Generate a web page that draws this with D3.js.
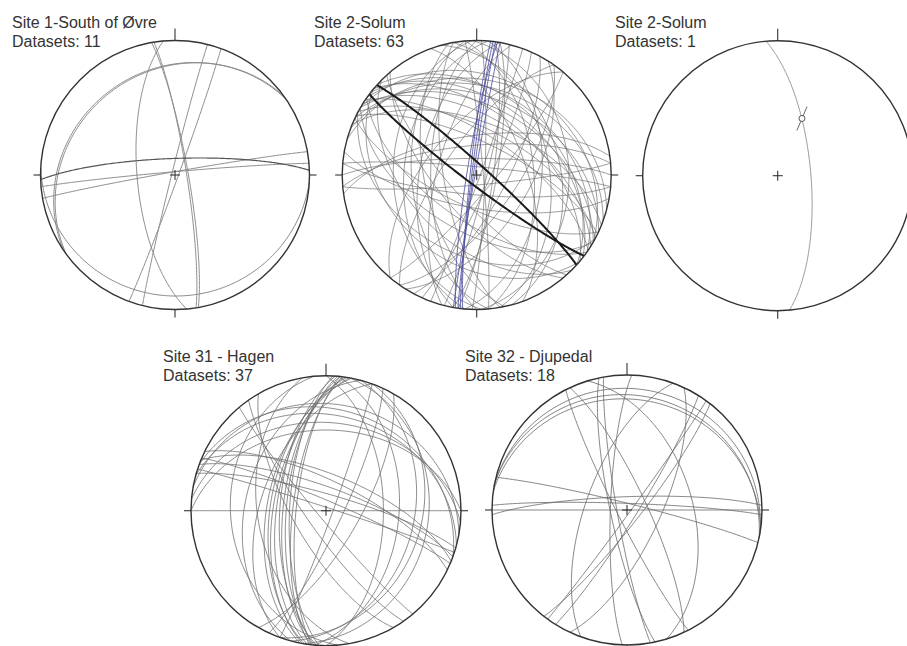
<!DOCTYPE html>
<html>
<head>
<meta charset="utf-8">
<script src="https://cdn.jsdelivr.net/npm/d3@7"></script>
<style>
  body { margin: 0; background: #fff; }
  text { font-family: 'Liberation Sans', Arial, sans-serif; }
</style>
</head>
<body>
<script>
let w = 907;
let h = 646;

// planes as [strike, dip], right-hand rule, lower hemisphere
let site1Planes = [
  [268, 80], [265, 88], [260, 88], [194, 88], [20, 88], [175, 67],
  [350, 82], [234, 23], [93, 11], [351, 83], [236, 22]
];

let site2Planes = [
  [290, 35], [295, 42], [300, 48], [302, 55], [305, 38], [298, 62], [308, 45],
  [310, 52], [285, 30], [292, 58], [304, 66], [312, 40], [296, 70], [300, 28],
  [175, 50], [180, 62], [185, 45], [170, 70], [190, 55], [178, 38], [195, 66], [168, 58],
  [2, 85], [8, 80], [14, 84], [20, 88], [355, 86], [24, 82], [10, 78],
  [350, 45], [355, 55], [345, 38], [5, 50], [340, 60], [358, 32],
  [270, 80], [265, 72], [275, 85], [262, 66], [95, 78], [100, 70], [85, 84],
  [28, 72], [35, 66], [40, 80], [215, 70], [220, 60], [32, 58],
  [120, 55], [125, 62], [115, 70], [135, 48], [140, 66], [118, 40], [130, 35], [138, 74]
];
let site2Blue = [[186, 86], [188, 88], [189, 84], [190, 89], [187, 87]];
let site2Bold = [[312, 84], [127, 84]];

let site2bPlanes = [[355, 70]];
let site2bLineation = [[23, 52]]; // [trend, plunge]

let site31Planes = [
  [184, 62], [186, 64], [188, 60], [185, 66], [190, 58], [187, 70], [183, 68],
  [189, 56], [186, 72], [191, 54],
  [286, 80], [290, 76], [293, 84], [296, 72], [288, 88], [292, 68],
  [280, 22], [285, 30], [275, 35], [290, 26], [270, 40],
  [10, 25], [15, 35], [5, 45], [20, 30], [0, 55],
  [25, 80], [30, 70], [20, 86],
  [145, 78], [150, 70], [140, 85],
  [90, 90], [175, 30], [195, 40], [200, 50], [170, 48]
];

let site32Planes = [
  [90, 90], [268, 82], [272, 86], [284, 86], [280, 11], [282, 16], [278, 19],
  [170, 84], [168, 80], [182, 80], [32, 84], [38, 82], [36, 88], [153, 84],
  [335, 78], [343, 50], [200, 65], [25, 70]
];

let titles = ['Site 1-South of Øvre', 'Site 2-Solum', 'Site 2-Solum', 'Site 31 - Hagen', 'Site 32 - Djupedal'];
let datasetCounts = [11, 63, 1, 37, 18];

let nets = [
  { cx: 175, cy: 175, r: 134.5, tx: 12, ty: 27.5 },
  { cx: 476.7, cy: 175, r: 134.5, tx: 314, ty: 27.5 },
  { cx: 777.7, cy: 175.7, r: 135, tx: 615, ty: 27.5 },
  { cx: 326, cy: 510.7, r: 135, tx: 163, ty: 362 },
  { cx: 627, cy: 510, r: 135, tx: 465, ty: 362 }
];

let rad = Math.PI / 180;

// equal-area projection of a line (trend, plunge) to unit circle coords
function project(trend, plunge) {
  let rho = Math.SQRT2 * Math.sin((90 - plunge) / 2 * rad);
  return [rho * Math.sin(trend * rad), rho * Math.cos(trend * rad)];
}

function greatCircle(strike, dip) {
  let s = strike * rad, d = dip * rad;
  let sv = [Math.sin(s), Math.cos(s), 0];
  let dv = [Math.sin(s + Math.PI / 2) * Math.cos(d), Math.cos(s + Math.PI / 2) * Math.cos(d), Math.sin(d)];
  let pts = [];
  for (let r = 0; r <= 180; r += 1) {
    let c = Math.cos(r * rad), sn = Math.sin(r * rad);
    let v = [c * sv[0] + sn * dv[0], c * sv[1] + sn * dv[1], c * sv[2] + sn * dv[2]];
    let plunge = Math.asin(Math.max(-1, Math.min(1, v[2]))) / rad;
    let trend = Math.atan2(v[0], v[1]) / rad;
    pts.push(project(trend, plunge));
  }
  return pts;
}

let svg = d3.select('body')
  .append('svg')
  .attr('width', w)
  .attr('height', h);

function drawNet(i, layers) {
  let n = nets[i];
  let xScale = d3.scaleLinear().domain([-1, 1]).range([n.cx - n.r, n.cx + n.r]);
  let yScale = d3.scaleLinear().domain([-1, 1]).range([n.cy + n.r, n.cy - n.r]);
  let line = d3.line()
    .x((d) => { return xScale(d[0]); })
    .y((d) => { return yScale(d[1]); });

  let g = svg.append('g');

  layers.forEach((layer) => {
    g.append('g')
      .selectAll('path')
      .data(layer.data)
      .enter()
      .append('path')
      .attr('d', (d) => { return line(greatCircle(d[0], d[1])); })
      .attr('fill', 'none')
      .attr('stroke', layer.color)
      .attr('stroke-opacity', layer.opacity)
      .attr('stroke-width', layer.width);
  });

  g.append('circle')
    .attr('cx', n.cx)
    .attr('cy', n.cy)
    .attr('r', n.r)
    .attr('fill', 'none')
    .attr('stroke', '#333')
    .attr('stroke-width', 1.4);

  let ticks = [
    [n.cx, n.cy - n.r - 12, n.cx, n.cy - n.r],
    [n.cx, n.cy + n.r, n.cx, n.cy + n.r + 8],
    [n.cx - n.r - 7, n.cy, n.cx - n.r, n.cy],
    [n.cx + n.r, n.cy, n.cx + n.r + 7, n.cy],
    [n.cx - 5, n.cy, n.cx + 5, n.cy],
    [n.cx, n.cy - 5, n.cx, n.cy + 5]
  ];
  g.selectAll('line.tick')
    .data(ticks)
    .enter()
    .append('line')
    .attr('class', 'tick')
    .attr('x1', (d) => { return d[0]; })
    .attr('y1', (d) => { return d[1]; })
    .attr('x2', (d) => { return d[2]; })
    .attr('y2', (d) => { return d[3]; })
    .attr('stroke', '#333')
    .attr('stroke-width', 1.1);

  g.append('text')
    .attr('x', n.tx)
    .attr('y', n.ty)
    .attr('font-size', '16px')
    .attr('fill', '#333')
    .text(titles[i]);

  g.append('text')
    .attr('x', n.tx)
    .attr('y', n.ty + 19)
    .attr('font-size', '16px')
    .attr('fill', '#333')
    .text('Datasets: ' + datasetCounts[i]);

  return { g: g, xScale: xScale, yScale: yScale };
}

drawNet(0, [
  { data: site1Planes.slice(1), color: '#8a8a8a', opacity: 1, width: 1 },
  { data: site1Planes.slice(0, 1), color: '#555', opacity: 1, width: 1.2 }
]);

drawNet(1, [
  { data: site2Planes, color: '#6a6a6a', opacity: 0.75, width: 0.9 },
  { data: site2Blue, color: '#4b4b9c', opacity: 0.85, width: 1 },
  { data: site2Bold, color: '#1a1a1a', opacity: 1, width: 2 }
]);

let net3 = drawNet(2, [
  { data: site2bPlanes, color: '#999', opacity: 1, width: 1 }
]);

site2bLineation.forEach((d) => {
  let p = project(d[0], d[1]);
  let x = net3.xScale(p[0]);
  let y = net3.yScale(p[1]);
  let dx = Math.sin(d[0] * rad) * 13;
  let dy = -Math.cos(d[0] * rad) * 13;
  net3.g.append('line')
    .attr('x1', x - dx).attr('y1', y - dy)
    .attr('x2', x + dx).attr('y2', y + dy)
    .attr('stroke', '#666')
    .attr('stroke-width', 1);
  net3.g.append('circle')
    .attr('cx', x).attr('cy', y).attr('r', 3)
    .attr('fill', '#fff')
    .attr('stroke', '#555')
    .attr('stroke-width', 1);
});

drawNet(3, [
  { data: site31Planes, color: '#6e6e6e', opacity: 0.9, width: 0.9 }
]);

drawNet(4, [
  { data: site32Planes, color: '#666', opacity: 0.9, width: 0.9 }
]);
</script>
</body>
</html>
